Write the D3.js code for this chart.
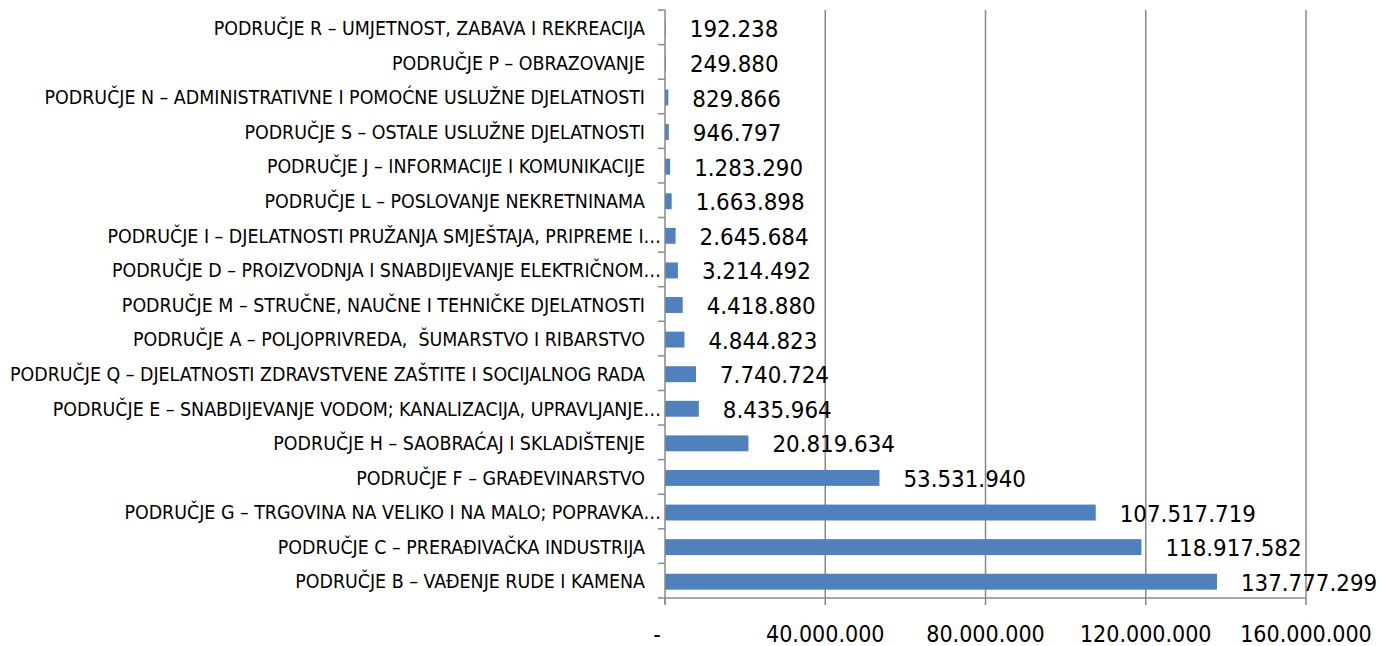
<!DOCTYPE html>
<html>
<head>
<meta charset="utf-8">
<script src="https://cdn.jsdelivr.net/npm/d3@7"></script>
<style>
    body { margin: 0; background: #fff; }
    text { font-family: "Liberation Sans Narrow", "DejaVu Sans Condensed", "Liberation Sans", sans-serif; fill: #000; }
</style>
</head>
<body>
<script>
// podaci, redom odozgo prema dolje
let categories = [
    "PODRUČJE R – UMJETNOST, ZABAVA I REKREACIJA",
    "PODRUČJE P – OBRAZOVANJE",
    "PODRUČJE N – ADMINISTRATIVNE I POMOĆNE USLUŽNE DJELATNOSTI",
    "PODRUČJE S – OSTALE USLUŽNE DJELATNOSTI",
    "PODRUČJE J – INFORMACIJE I KOMUNIKACIJE",
    "PODRUČJE L – POSLOVANJE NEKRETNINAMA",
    "PODRUČJE I – DJELATNOSTI PRUŽANJA SMJEŠTAJA, PRIPREME I…",
    "PODRUČJE D – PROIZVODNJA I SNABDIJEVANJE ELEKTRIČNOM…",
    "PODRUČJE M – STRUČNE, NAUČNE I TEHNIČKE DJELATNOSTI",
    "PODRUČJE A – POLJOPRIVREDA,  ŠUMARSTVO I RIBARSTVO",
    "PODRUČJE Q – DJELATNOSTI ZDRAVSTVENE ZAŠTITE I SOCIJALNOG RADA",
    "PODRUČJE E – SNABDIJEVANJE VODOM; KANALIZACIJA, UPRAVLJANJE…",
    "PODRUČJE H – SAOBRAĆAJ I SKLADIŠTENJE",
    "PODRUČJE F – GRAĐEVINARSTVO",
    "PODRUČJE G – TRGOVINA NA VELIKO I NA MALO; POPRAVKA…",
    "PODRUČJE C – PRERAĐIVAČKA INDUSTRIJA",
    "PODRUČJE B – VAĐENJE RUDE I KAMENA"
]
let values = [
    192238, 249880, 829866, 946797, 1283290, 1663898, 2645684, 3214492,
    4418880, 4844823, 7740724, 8435964, 20819634, 53531940, 107517719,
    118917582, 137777299
]
let xTicks = [0, 40000000, 80000000, 120000000, 160000000]

let w = 1380
let h = 646
let m = { top: 10, right: 74, bottom: 48, left: 665 }

let loc = d3.formatLocale({ decimal: ",", thousands: ".", grouping: [3], currency: ["", ""] })
let fmt = loc.format(",d")
let tickFmt = d => d === 0 ? "-" : fmt(d)

let svg = d3.select("body").append("svg")
    .attr("width", w)
    .attr("height", h)

let x = d3.scaleLinear()
    .domain([0, 160000000])
    .range([m.left, w - m.right])

let y = d3.scaleBand()
    .domain(categories)
    .range([m.top, h - m.bottom])
    .paddingInner(0.54)
    .paddingOuter(0.27)

let gridColor = "#888888"

// mreža
svg.append("g").selectAll("line")
    .data(xTicks.filter(d => d > 0))
    .enter()
    .append("line")
        .attr("x1", d => x(d))
        .attr("x2", d => x(d))
        .attr("y1", m.top)
        .attr("y2", h - m.bottom)
        .style("stroke", gridColor)
        .style("stroke-width", 1.5)

// stupci
svg.append("g").selectAll("rect")
    .data(values)
    .enter()
    .append("rect")
        .attr("x", x(0))
        .attr("y", (d, i) => y(categories[i]) + 1)
        .attr("width", d => x(d) - x(0))
        .attr("height", y.bandwidth())
        .style("fill", "#4F81BD")

// os y
let yAxis = svg.append("g")
let step = y.step()
yAxis.append("line")
    .attr("x1", x(0)).attr("x2", x(0))
    .attr("y1", m.top).attr("y2", h - m.bottom + 6)
    .style("stroke", gridColor).style("stroke-width", 1.5)
yAxis.selectAll(".tk")
    .data(d3.range(categories.length + 1))
    .enter()
    .append("line")
        .attr("x1", x(0) - 7).attr("x2", x(0))
        .attr("y1", i => m.top + i * step)
        .attr("y2", i => m.top + i * step)
        .style("stroke", gridColor).style("stroke-width", 1.5)

// os x
svg.append("line")
    .attr("x1", x(0)).attr("x2", x(160000000))
    .attr("y1", h - m.bottom).attr("y2", h - m.bottom)
    .style("stroke", gridColor).style("stroke-width", 1.5)
svg.append("g").selectAll("line")
    .data(xTicks)
    .enter()
    .append("line")
        .attr("x1", d => x(d)).attr("x2", d => x(d))
        .attr("y1", h - m.bottom).attr("y2", h - m.bottom + 7)
        .style("stroke", gridColor).style("stroke-width", 1.5)
svg.append("g").selectAll("text")
    .data(xTicks)
    .enter()
    .append("text")
        .text(d => tickFmt(d))
        .attr("x", d => d === 0 ? x(d) - 8 : x(d))
        .attr("y", h - 4)
        .attr("text-anchor", "middle")
        .style("font-size", "23px")

// nazivi kategorija
svg.append("g").selectAll("text")
    .data(categories)
    .enter()
    .append("text")
        .text(d => d)
        .attr("x", d => d.endsWith("…") ? x(0) - 4 : x(0) - 20)
        .attr("y", d => y(d) + y.bandwidth() / 2 + 1)
        .attr("dy", "0.35em")
        .attr("text-anchor", "end")
        .style("font-size", "19.4px")
        .style("white-space", "pre")

// vrijednosti
svg.append("g").selectAll("text")
    .data(values)
    .enter()
    .append("text")
        .text(d => fmt(d))
        .attr("x", d => x(d) + 24)
        .attr("y", (d, i) => y(categories[i]) + y.bandwidth() / 2 + 1)
        .attr("dy", "0.38em")
        .style("font-size", "23.8px")
</script>
</body>
</html>
